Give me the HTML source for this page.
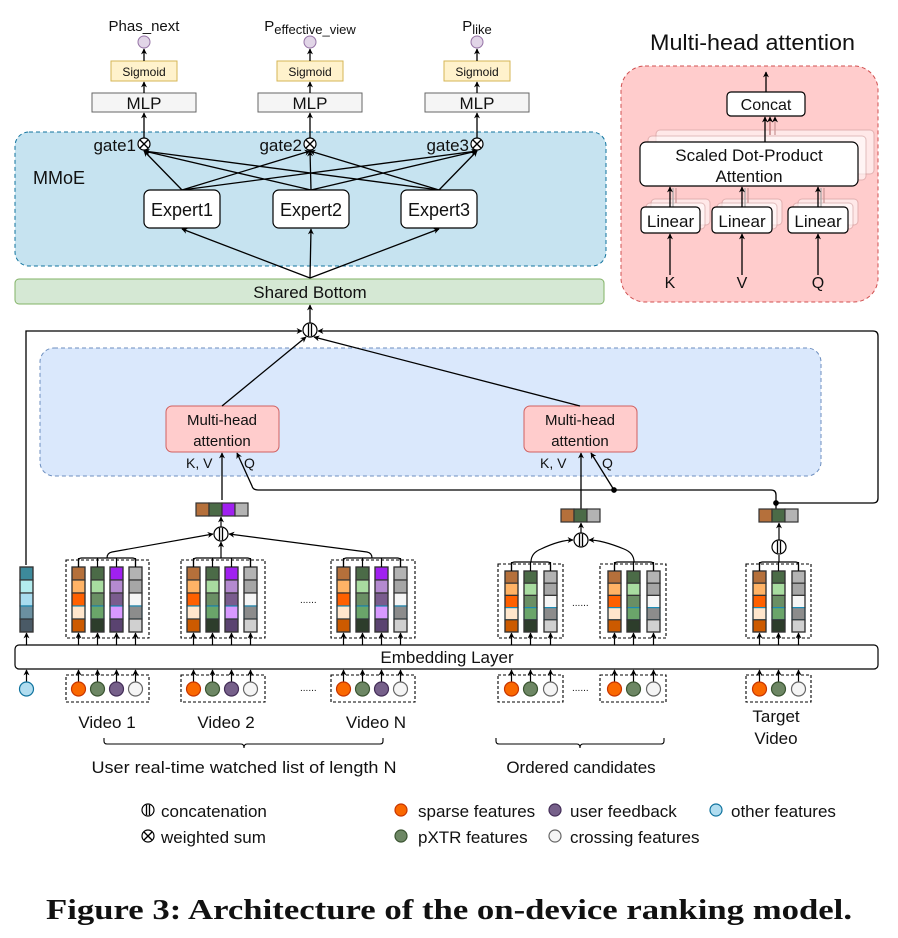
<!DOCTYPE html>
<html><head><meta charset="utf-8">
<style>
html,body{margin:0;padding:0;background:#fff;}
svg{display:block;}
text{font-family:"Liberation Sans",sans-serif;fill:#111;}
</style></head>
<body>
<svg id="s" width="898" height="938" viewBox="0 0 898 938" xmlns="http://www.w3.org/2000/svg">
<defs>
<marker id="a" viewBox="0 0 10 10" refX="9" refY="5" markerWidth="6" markerHeight="6" orient="auto-start-reverse" markerUnits="userSpaceOnUse"><path d="M0,0 L10,5 L0,10 L3,5 z" fill="#000"/></marker>
</defs>

<!-- MMoE region -->
<rect x="15" y="132" width="591" height="134" rx="14" fill="#c6e3f0" stroke="#10739e" stroke-dasharray="4,3"/>
<text x="33" y="184" font-size="18">MMoE</text>
<rect x="15" y="279" width="589" height="25" rx="4" fill="#d5e8d4" stroke="#82b366"/>
<text x="310" y="298" font-size="17" text-anchor="middle">Shared Bottom</text>

<g id="top"></g>

<!-- Multi-head attention panel -->
<text x="650" y="50" font-size="22" textLength="205" lengthAdjust="spacingAndGlyphs">Multi-head attention</text>
<rect x="621" y="66" width="257" height="236" rx="24" fill="#ffcccc" stroke="#d05050" stroke-dasharray="4,3"/>
<g id="mha"></g>

<!-- middle -->
<rect x="40" y="348" width="781" height="128" rx="14" fill="#dae8fc" stroke="#6c8ebf" stroke-dasharray="4,3"/>
<rect x="166" y="406" width="113" height="46" rx="6" fill="#ffcccc" stroke="#d06060"/>
<text x="222" y="425" font-size="15" text-anchor="middle">Multi-head</text>
<text x="222" y="446" font-size="15" text-anchor="middle">attention</text>
<rect x="524" y="406" width="113" height="46" rx="6" fill="#ffcccc" stroke="#d06060"/>
<text x="580" y="425" font-size="15" text-anchor="middle">Multi-head</text>
<text x="580" y="446" font-size="15" text-anchor="middle">attention</text>
<text x="186" y="468" font-size="14">K, V</text><text x="244" y="468" font-size="14">Q</text>
<text x="540" y="468" font-size="14">K, V</text><text x="602" y="468" font-size="14">Q</text>

<g id="main" fill="none" stroke="#000" stroke-width="1.3"></g>

<rect x="15" y="645" width="863" height="24" rx="4" fill="#fff" stroke="#000" stroke-width="1.2"/>
<text x="447" y="663" font-size="17" text-anchor="middle">Embedding Layer</text>

<g id="cols"></g>

<text x="300" y="603" font-size="10" fill="#444">......</text>
<text x="300" y="691" font-size="10" fill="#444">......</text>
<text x="572" y="606" font-size="10" fill="#444">......</text>
<text x="572" y="691" font-size="10" fill="#444">......</text>

<text x="107" y="728" font-size="17" text-anchor="middle">Video 1</text>
<text x="226" y="728" font-size="17" text-anchor="middle">Video 2</text>
<text x="376" y="728" font-size="17" text-anchor="middle">Video N</text>
<text x="776" y="722" font-size="17" text-anchor="middle">Target</text>
<text x="776" y="744" font-size="17" text-anchor="middle">Video</text>
<path d="M104,738 v3 q0,3 3,3 H241 q3,0 3,4 q0,-4 3,-4 H380 q3,0 3,-3 v-3" fill="none" stroke="#000" stroke-width="1.1"/>
<path d="M496,738 v3 q0,3 3,3 H577 q3,0 3,4 q0,-4 3,-4 H661 q3,0 3,-3 v-3" fill="none" stroke="#000" stroke-width="1.1"/>
<text x="244" y="773" font-size="17" text-anchor="middle" textLength="305" lengthAdjust="spacingAndGlyphs">User real-time watched list of length N</text>
<text x="581" y="773" font-size="17" text-anchor="middle">Ordered candidates</text>

<!-- legend -->
<g id="leg"></g>
<text x="161" y="817" font-size="17">concatenation</text>
<text x="161" y="843" font-size="17">weighted sum</text>
<text x="418" y="817" font-size="17">sparse features</text>
<text x="570" y="817" font-size="17">user feedback</text>
<text x="731" y="817" font-size="17">other features</text>
<text x="418" y="843" font-size="17">pXTR features</text>
<text x="570" y="843" font-size="17">crossing features</text>

<text x="449" y="919" font-size="28" font-weight="bold" text-anchor="middle" style="font-family:'Liberation Serif',serif" textLength="806" lengthAdjust="spacingAndGlyphs">Figure 3: Architecture of the on-device ranking model.</text>
</svg>
<script>
const NS="http://www.w3.org/2000/svg";
function el(p,t,a,txt){const e=document.createElementNS(NS,t);for(const k in a)e.setAttribute(k,a[k]);if(txt!==undefined)e.textContent=txt;document.getElementById(p).appendChild(e);return e;}
function line(p,x1,y1,x2,y2,arrow,extra){const a={x1,y1,x2,y2,stroke:"#000","stroke-width":1.3};if(arrow)a["marker-end"]="url(#a)";Object.assign(a,extra||{});return el(p,"line",a);}
function path(p,d,arrow){const a={d,fill:"none",stroke:"#000","stroke-width":1.3};if(arrow)a["marker-end"]="url(#a)";return el(p,"path",a);}
function otimes(p,x,y,r){el(p,"circle",{cx:x,cy:y,r:r,fill:"#fff",stroke:"#000","stroke-width":1.2});const d=r*0.707;line(p,x-d,y-d,x+d,y+d);line(p,x-d,y+d,x+d,y-d);}
function conc(p,x,y,r){el(p,"circle",{cx:x,cy:y,r:r,fill:"#fff",stroke:"#000","stroke-width":1.2});line(p,x-1.5,y-r+1,x-1.5,y+r-1);line(p,x+1.5,y-r+1,x+1.5,y+r-1);}

const tx=[144,310,477],lab=[["Phas_next",""],["P","effective_view"],["P","like"]];
tx.forEach((x,i)=>{
  const t=el("top","text",{x:x,y:31,"font-size":15,"text-anchor":"middle"});
  if(i==0){t.textContent="Phas_next";}
  else{const a=document.createElementNS(NS,"tspan");a.textContent="P";t.appendChild(a);const b=document.createElementNS(NS,"tspan");b.setAttribute("font-size","13");b.setAttribute("dy","3");b.textContent=lab[i][1];t.appendChild(b);}
  el("top","circle",{cx:x,cy:42,r:6,fill:"#e1d5e7",stroke:"#9673a6"});
  el("top","rect",{x:x-33,y:61,width:66,height:20,fill:"#fff2cc",stroke:"#d6b656"});
  el("top","text",{x:x,y:76,"font-size":12,"text-anchor":"middle"},"Sigmoid");
  el("top","rect",{x:x-52,y:93,width:104,height:19,fill:"#f5f5f5",stroke:"#666"});
  el("top","text",{x:x,y:109,"font-size":17,"text-anchor":"middle"},"MLP");
  line("top",x,61,x,49,true);line("top",x,93,x,82,true);line("top",x,138,x,113,true);
  el("top","text",{x:x-8,y:151,"font-size":17,"text-anchor":"end"},"gate"+(i+1));
});
const ex=[182,311,439];
ex.forEach(x=>{tx.forEach(g=>{line("top",x,190,g,151,true);});});
tx.forEach(x=>otimes("top",x,144,6));
ex.forEach((x,i)=>{el("top","rect",{x:x-38,y:190,width:76,height:38,rx:6,fill:"#fff",stroke:"#000","stroke-width":1.2});
 el("top","text",{x:x,y:216,"font-size":18,"text-anchor":"middle"},"Expert"+(i+1));
 line("top",310,278,x,229,true);});

function stack(x,y,w,h,n,dx,dy){for(let k=n;k>=1;k--)el("mha","rect",{x:x+k*dx,y:y-k*dy,width:w,height:h,rx:4,fill:"#fff",stroke:"#c99","stroke-width":1,opacity:0.55});}
stack(640,142,218,44,2,8,6);
[[641,59,670,"K"],[712,60,742,"V"],[788,60,818,"Q"]].forEach(([x,w,c,L])=>{
 stack(x,207,w,26,2,5,4);
 line("mha",c,275,c,234,true);
 line("mha",c+3,188,c+3,207,false,{stroke:"#aaa"});
 line("mha",c+6,188,c+6,203,false,{stroke:"#c99"});
 el("mha","rect",{x:x,y:207,width:w,height:26,rx:4,fill:"#fff",stroke:"#000","stroke-width":1.2});
 el("mha","text",{x:x+w/2,y:227,"font-size":17,"text-anchor":"middle"},"Linear");
 line("mha",c,207,c,187,true);
 el("mha","text",{x:c,y:288,"font-size":16,"text-anchor":"middle"},L);
});
line("mha",770,135,770,117,true,{stroke:"#b77"});
line("mha",775,135,775,117,true,{stroke:"#c99"});
el("mha","rect",{x:640,y:142,width:218,height:44,rx:6,fill:"#fff",stroke:"#000","stroke-width":1.2});
el("mha","text",{x:749,y:161,"font-size":17,"text-anchor":"middle"},"Scaled Dot-Product");
el("mha","text",{x:749,y:182,"font-size":17,"text-anchor":"middle"},"Attention");
line("mha",765,142,765,117,true);
el("mha","rect",{x:727,y:92,width:78,height:24,rx:4,fill:"#fff",stroke:"#000","stroke-width":1.2});
el("mha","text",{x:766,y:110,"font-size":16,"text-anchor":"middle"},"Concat");
line("mha",766,92,766,72,true);

line("main",310,323,310,305,true);
path("main","M26,565 V331 H302",true);
path("main","M776,503 H873 q5,0 5,-5 V336 q0,-5 -5,-5 H318",true);
line("main",222,406,306,337,true);
line("main",580,406,314,337,true);
line("main",222,500,222,453,true);
path("main","M581,509 V453",true);
path("main","M776,509 V495 q0,-5 -5,-5 H258 q-5,0 -6,-4 L237,453",true);
line("main",614,490,591,453,true);
el("main","circle",{cx:614,cy:490,r:2.2,fill:"#000"});
el("main","circle",{cx:776,cy:503,r:2.2,fill:"#000"});
conc("main",310,330,7);

const C={
 o:["#b5703b","#ffb366","#ff6000","#ffe6cc","#cc5a00"],
 g:["#4b6b47","#a8dca0","#6a8f64","#6aa56a","#2d3d2b"],
 p:["#a020f0","#b48ad0","#7a5c8e","#d899ff","#5a4370"],
 y:["#b3b3b3","#a6a6a6","#f5f5f5","#8c8c8c","#d0d0d0"],
 b:["#3d8a9b","#b3ecee","#a8dcef","#6b90a0","#4a5a66"]};
const IN={o:["#fa6800","#c73500"],g:["#6d8764","#3a5431"],p:["#76608a","#432d57"],y:["#f5f5f5","#666"],b:["#b1ddf0","#10739e"]};
function column(x,y0,y1,cols){const h=(y1-y0)/5;cols.forEach((c,i)=>{el("cols","rect",{x:x,y:y0+i*h,width:13,height:h,fill:c,stroke:i==3?"#1a8ab5":"#333","stroke-width":1.2});});
 el("cols","rect",{x:x,y:y0,width:13,height:y1-y0,fill:"none",stroke:"#333","stroke-width":1.2});}
function lineC(x1,y1,x2,y2,ar){const a={x1,y1,x2,y2,stroke:"#000","stroke-width":1.2};if(ar)a["marker-end"]="url(#a)";el("cols","line",a);}
function group(bx,bw,xs,keys,y0,y1){
 el("cols","rect",{x:bx,y:y0-7,width:bw,height:y1-y0+13,fill:"none",stroke:"#000","stroke-dasharray":"3,2","stroke-width":1.1});
 el("cols","rect",{x:bx,y:675,width:bw,height:27,fill:"none",stroke:"#000","stroke-dasharray":"3,2","stroke-width":1.1});
 xs.forEach((x,i)=>{column(x,y0,y1,C[keys[i]]);const c=x+6.5;
  lineC(c,645,c,y1+1,true);lineC(c,682,c,670,true);
  el("cols","circle",{cx:c,cy:689,r:7,fill:IN[keys[i]][0],stroke:IN[keys[i]][1],"stroke-width":1.2});
  lineC(c,y0,c,y0-9);
 });
 const c1=xs[0]+6.5,c2=xs[xs.length-1]+6.5,m=(c1+c2)/2,by=y0-9;
 el("cols","path",{d:`M${c1},${y0} V${by+3} q0,-3 3,-3 H${c2-3} q3,0 3,3 V${y0}`,fill:"none",stroke:"#000","stroke-width":1.2});
 return [m,by];
}
const K4=["o","g","p","y"],K3=["o","g","y"];
column(20,567,632,C.b);lineC(26.5,645,26.5,633,true);lineC(26.5,682,26.5,670,true);
el("cols","circle",{cx:26.5,cy:689,r:7,fill:IN.b[0],stroke:IN.b[1],"stroke-width":1.2});
const g1=group(66,83,[72,91,110,129],K4,567,632);
const g2=group(181,84,[187,206,225,244],K4,567,632);
const g3=group(331,84,[337,356,375,394],K4,567,632);
const o1=group(498,65,[505,524,544],K3,571,632);
const o2=group(600,66,[608,627,647],K3,571,632);
const t1=group(746,65,[753,772,792],K3,571,632);
function P(d,ar){const a={d,fill:"none",stroke:"#000","stroke-width":1.2};if(ar)a["marker-end"]="url(#a)";el("cols","path",a);}
P(`M${g1[0]},${g1[1]} q0,-5 5,-6 L213,534`,true);
P(`M${g3[0]},${g3[1]} q0,-5 -5,-6 L229,534`,true);
P(`M221,${g2[1]} V542`,true);
conc("cols",221,534,7);lineC(221,527,221,517,true);
[["#b5703b",196],["#4b6b47",209],["#a020f0",222],["#b3b3b3",235]].forEach(([c,x])=>el("cols","rect",{x:x,y:503,width:13,height:13,fill:c,stroke:"#333","stroke-width":1.2}));
P(`M${o1[0]},${o1[1]} q0,-9 10,-13 Q560,540 573,540`,true);
P(`M${o2[0]},${o2[1]} q0,-9 -10,-13 Q602,540 589,540`,true);
conc("cols",581,540,7);lineC(581,533,581,523,true);
[["#b5703b",561],["#4b6b47",574],["#b3b3b3",587]].forEach(([c,x])=>el("cols","rect",{x:x,y:509,width:13,height:13,fill:c,stroke:"#333","stroke-width":1.2}));
P(`M${t1[0]},${t1[1]} V555`,false);
conc("cols",779,547,7);lineC(779,540,779,523,true);
[["#b5703b",759],["#4b6b47",772],["#b3b3b3",785]].forEach(([c,x])=>el("cols","rect",{x:x,y:509,width:13,height:13,fill:c,stroke:"#333","stroke-width":1.2}));

conc("leg",148,810,6);otimes("leg",148,836,6);
[[401,810,"o"],[555,810,"p"],[716,810,"b"],[401,836,"g"],[555,836,"y"]].forEach(([x,y,k])=>el("leg","circle",{cx:x,cy:y,r:6,fill:IN[k][0],stroke:IN[k][1],"stroke-width":1.2}));
</script>
</body></html>
